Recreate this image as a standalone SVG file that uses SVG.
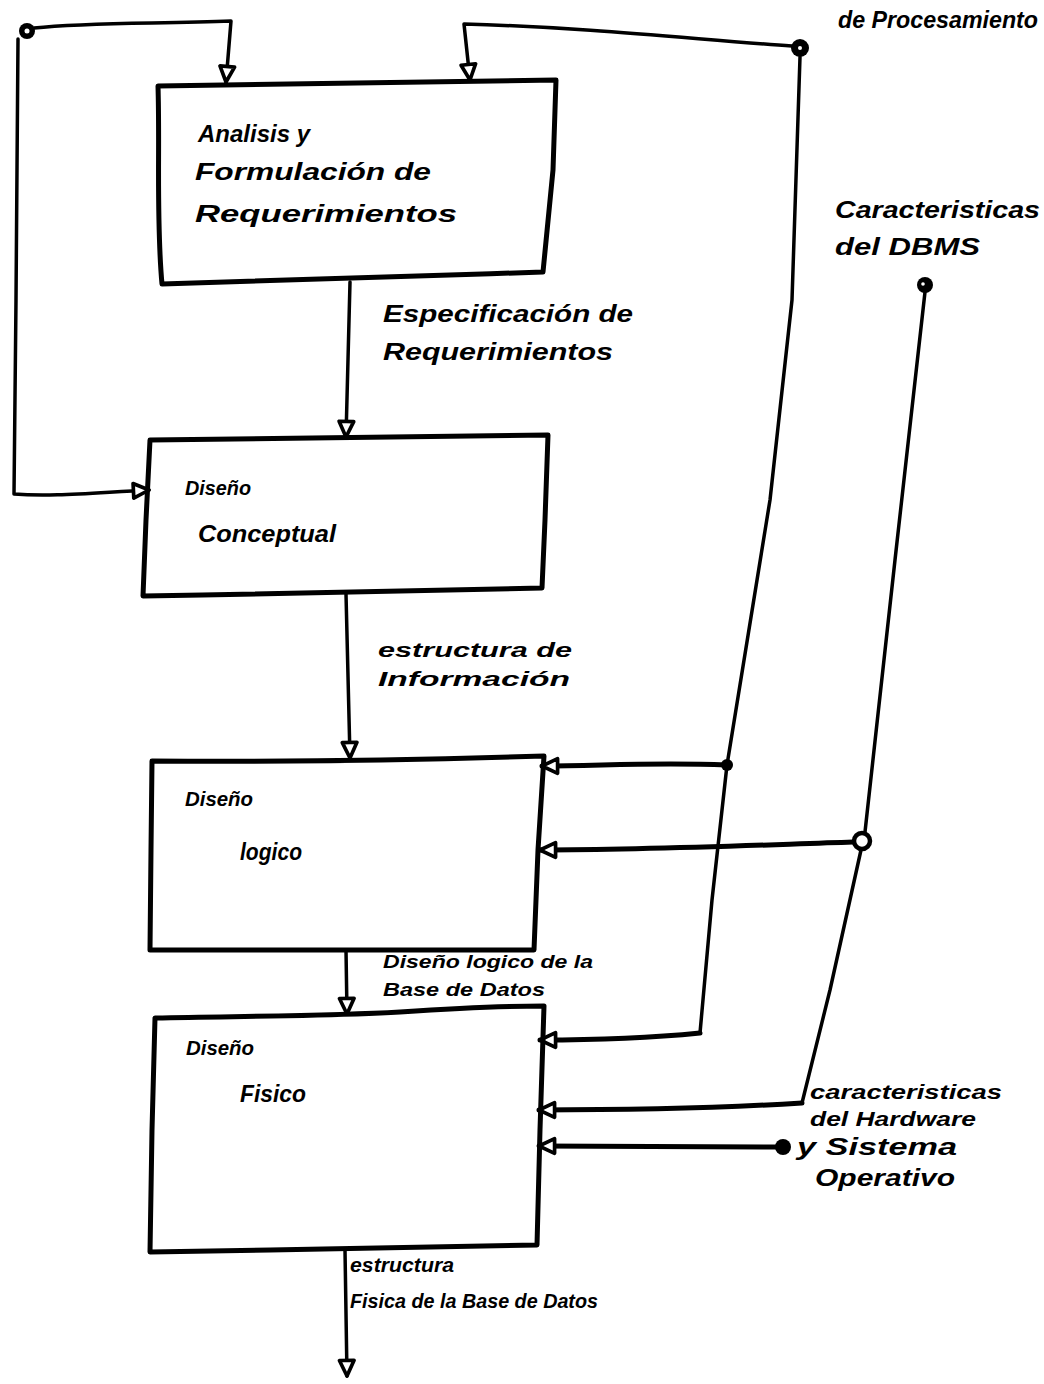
<svg xmlns="http://www.w3.org/2000/svg" width="1044" height="1384" viewBox="0 0 1044 1384">
  <style>
    .box { fill: none; stroke: #000; stroke-width: 5; stroke-linejoin: round; stroke-linecap: round; }
    .wire { fill: none; stroke: #000; stroke-width: 3.5; stroke-linejoin: round; stroke-linecap: round; }
    .feed { fill: none; stroke: #000; stroke-width: 5; stroke-linejoin: round; stroke-linecap: round; }
    .hand { font-family: "Liberation Sans", "DejaVu Sans", sans-serif; font-style: italic; font-weight: bold; font-size: 24px; fill: #000; }
    .sm { font-size: 21px; }
    .dot { fill: #000; }
    .eye { fill: #fff; }
  </style>
  <defs>
    <marker id="tri" viewBox="0 0 24 24" refX="21" refY="12" markerWidth="22" markerHeight="22" markerUnits="userSpaceOnUse" orient="auto">
      <path d="M4,4 L21,12 L4,20 Z" fill="#fff" stroke="#000" stroke-width="4" stroke-linejoin="round"/>
    </marker>
  </defs>

  <rect width="1044" height="1384" fill="#fff"/>

  <!-- connectors -->
  <g id="connectors">
    <!-- feedback loop from the left input -->
    <path class="wire" d="M34,28 C90,22 160,24 231,21 L226,82" marker-end="url(#tri)"/>
    <path class="wire" d="M18,39 L16,300 L14,494 C50,497 90,493 149,490" marker-end="url(#tri)"/>
    <!-- processing requirements input -->
    <path class="wire" d="M792,46 C700,40 600,28 464,24 L470,80" marker-end="url(#tri)"/>
    <path class="wire" d="M800,57 L792,300 L770,500 L727,765"/>
    <path class="feed" d="M727,765 C650,762 600,766 542,766" marker-end="url(#tri)"/>
    <path class="wire" d="M727,765 L712,900 L700,1033"/>
    <path class="feed" d="M700,1033 C650,1038 600,1040 540,1040" marker-end="url(#tri)"/>
    <!-- DBMS characteristics input -->
    <path class="wire" d="M925,292 L895,560 L865,832"/>
    <path class="feed" d="M853,842 C760,845 650,850 540,850" marker-end="url(#tri)"/>
    <path class="wire" d="M861,850 L830,990 L802,1103"/>
    <path class="feed" d="M802,1103 C720,1108 630,1110 539,1110" marker-end="url(#tri)"/>
    <!-- hardware / operating system input -->
    <path class="feed" d="M776,1147 C700,1146 620,1146 539,1146" marker-end="url(#tri)"/>
    <!-- main flow -->
    <path class="wire" d="M350,282 L346,437" marker-end="url(#tri)"/>
    <path class="wire" d="M346,594 L350,758" marker-end="url(#tri)"/>
    <path class="wire" d="M346,950 L347,1014" marker-end="url(#tri)"/>
    <path class="wire" d="M345,1250 L347,1376" marker-end="url(#tri)"/>
  </g>

  <!-- input dots -->
  <g id="inputs">
    <circle class="dot" cx="27" cy="31" r="8"/><circle class="eye" cx="27" cy="31" r="2.5"/>
    <circle class="dot" cx="800" cy="48" r="9"/><circle class="eye" cx="800" cy="48" r="2"/>
    <circle class="dot" cx="925" cy="285" r="8"/><circle class="eye" cx="923" cy="284" r="1.8"/>
    <circle class="dot" cx="727" cy="765" r="6"/>
    <circle cx="862" cy="841" r="8" fill="#fff" stroke="#000" stroke-width="4.5"/>
    <circle class="dot" cx="783" cy="1147" r="8"/>
  </g>

  <!-- requirement analysis -->
  <g id="analisis">
    <path class="box" d="M158,86 C260,84 380,83 556,80 L553,170 L543,272 C420,276 300,280 162,284 C156,220 160,150 158,86 Z"/>
    <text class="hand" x="198" y="142" textLength="112" lengthAdjust="spacingAndGlyphs">Analisis y</text>
    <text class="hand" x="195" y="180" textLength="236" lengthAdjust="spacingAndGlyphs">Formulación de</text>
    <text class="hand" x="195" y="222" textLength="262" lengthAdjust="spacingAndGlyphs">Requerimientos</text>
  </g>
  <g id="lbl-especificacion">
    <text class="hand" x="383" y="322" textLength="250" lengthAdjust="spacingAndGlyphs">Especificación de</text>
    <text class="hand" x="383" y="360" textLength="230" lengthAdjust="spacingAndGlyphs">Requerimientos</text>
  </g>

  <!-- conceptual design -->
  <g id="conceptual">
    <path class="box" d="M150,440 C280,438 420,437 548,435 L545,520 L542,588 C420,590 280,594 143,596 L146,520 Z"/>
    <text class="hand sm" x="185" y="495" textLength="66" lengthAdjust="spacingAndGlyphs">Diseño</text>
    <text class="hand" x="198" y="542" textLength="138" lengthAdjust="spacingAndGlyphs">Conceptual</text>
  </g>
  <g id="lbl-estructura">
    <text class="hand sm" x="378" y="657" textLength="194" lengthAdjust="spacingAndGlyphs">estructura de</text>
    <text class="hand sm" x="378" y="686" textLength="192" lengthAdjust="spacingAndGlyphs">Información</text>
  </g>

  <!-- logical design -->
  <g id="logico">
    <path class="box" d="M152,761 C280,762 420,760 544,756 L538,850 L534,950 C400,950 280,950 150,950 L151,850 Z"/>
    <text class="hand sm" x="185" y="806" textLength="68" lengthAdjust="spacingAndGlyphs">Diseño</text>
    <text class="hand" x="240" y="860" textLength="62" lengthAdjust="spacingAndGlyphs">logico</text>
  </g>
  <g id="lbl-logico-bd">
    <text class="hand" style="font-size:19px" x="383" y="968" textLength="210" lengthAdjust="spacingAndGlyphs">Diseño logico de la</text>
    <text class="hand" style="font-size:19px" x="383" y="996" textLength="162" lengthAdjust="spacingAndGlyphs">Base de Datos</text>
  </g>

  <!-- physical design -->
  <g id="fisico">
    <path class="box" d="M155,1018 C260,1016 330,1016 400,1012 C460,1008 510,1006 544,1006 L540,1130 L537,1245 C420,1247 280,1250 150,1252 L152,1130 Z"/>
    <text class="hand sm" x="186" y="1055" textLength="68" lengthAdjust="spacingAndGlyphs">Diseño</text>
    <text class="hand" x="240" y="1102" textLength="66" lengthAdjust="spacingAndGlyphs">Fisico</text>
  </g>
  <g id="lbl-fisica-bd">
    <text class="hand sm" x="350" y="1272" textLength="104" lengthAdjust="spacingAndGlyphs">estructura</text>
    <text class="hand sm" x="350" y="1308" textLength="248" lengthAdjust="spacingAndGlyphs">Fisica de la Base de Datos</text>
  </g>

  <!-- input labels -->
  <g id="lbl-procesamiento">
    <text class="hand" x="838" y="28" textLength="200" lengthAdjust="spacingAndGlyphs">de Procesamiento</text>
  </g>
  <g id="lbl-dbms">
    <text class="hand" x="835" y="218" textLength="205" lengthAdjust="spacingAndGlyphs">Caracteristicas</text>
    <text class="hand" x="835" y="255" textLength="145" lengthAdjust="spacingAndGlyphs">del DBMS</text>
  </g>
  <g id="lbl-hardware">
    <text class="hand sm" x="810" y="1099" textLength="192" lengthAdjust="spacingAndGlyphs">caracteristicas</text>
    <text class="hand sm" x="810" y="1126" textLength="166" lengthAdjust="spacingAndGlyphs">del Hardware</text>
    <text class="hand" x="797" y="1155" textLength="160" lengthAdjust="spacingAndGlyphs">y Sistema</text>
    <text class="hand" x="815" y="1186" textLength="140" lengthAdjust="spacingAndGlyphs">Operativo</text>
  </g>
</svg>
